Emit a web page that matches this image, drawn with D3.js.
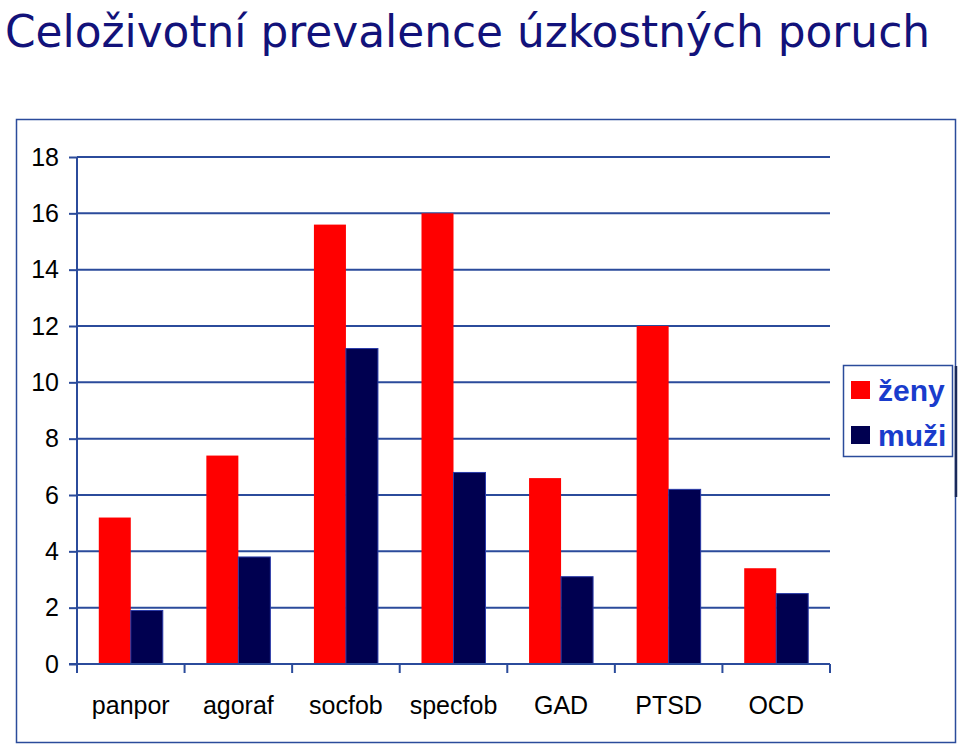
<!DOCTYPE html>
<html>
<head>
<meta charset="utf-8">
<script src="https://cdn.jsdelivr.net/npm/d3@7"></script>
<style>
  body { margin: 0; background: #fff; }
</style>
</head>
<body>
<div id="chart"></div>
<script>
const categories = ['panpor', 'agoraf', 'socfob', 'specfob', 'GAD', 'PTSD', 'OCD'];
const series = ['ženy', 'muži'];
const zeny = [5.2, 7.4, 15.6, 16.0, 6.6, 12.0, 3.4];
const muzi = [1.9, 3.8, 11.2, 6.8, 3.1, 6.2, 2.5];
const yTicks = [0, 2, 4, 6, 8, 10, 12, 14, 16, 18];

const W = 960, H = 746;
const margin = {top: 157, right: 130, bottom: 82, left: 77};
const width = W - margin.left - margin.right;
const height = H - margin.top - margin.bottom;
const lineCol = '#2b4b9b';
const colors = {'ženy': '#ff0000', 'muži': '#000050'};

const svg = d3.select('#chart').append('svg')
  .attr('width', W)
  .attr('height', H);

// title
svg.append('text')
  .attr('x', 5)
  .attr('y', 47)
  .attr('font-family', '"Comic Sans MS", "DejaVu Sans", sans-serif')
  .attr('font-size', 44)
  .attr('fill', '#12127a')
  .attr('textLength', 925)
  .attr('lengthAdjust', 'spacingAndGlyphs')
  .text('Celoživotní prevalence úzkostných poruch');

// outer frame
svg.append('rect')
  .attr('x', 16.5).attr('y', 119.5)
  .attr('width', 939).attr('height', 623)
  .attr('fill', 'none')
  .attr('stroke', lineCol)
  .attr('stroke-width', 1.5);

const g = svg.append('g')
  .attr('transform', `translate(${margin.left},${margin.top})`);

const x = d3.scaleBand()
  .domain(categories)
  .range([0, width])
  .paddingInner(0.405)
  .paddingOuter(0.2025);

const xs = d3.scaleBand()
  .domain(series)
  .range([0, x.bandwidth()]);

const y = d3.scaleLinear()
  .domain([0, 18])
  .range([height, 0]);

// gridlines
g.append('g')
  .selectAll('line')
  .data(yTicks.filter(d => d > 0))
  .join('line')
    .attr('x1', 0).attr('x2', width)
    .attr('y1', d => y(d)).attr('y2', d => y(d))
    .attr('stroke', lineCol)
    .attr('stroke-width', 2);

// bars
const rows = categories.map((c, i) => ({cat: c, vals: [
  {s: 'ženy', v: zeny[i]},
  {s: 'muži', v: muzi[i]}
]}));

g.selectAll('.grp')
  .data(rows)
  .join('g')
    .attr('class', 'grp')
    .attr('transform', d => `translate(${x(d.cat)},0)`)
  .selectAll('rect')
  .data(d => d.vals)
  .join('rect')
    .attr('x', d => xs(d.s))
    .attr('y', d => y(d.v))
    .attr('width', xs.bandwidth())
    .attr('height', d => height - y(d.v))
    .attr('fill', d => colors[d.s])
    .attr('stroke', d => d.s === 'muži' ? '#2a3aa8' : 'none')
    .attr('stroke-width', 1);

// y axis
const yAxis = g.append('g')
  .call(d3.axisLeft(y).tickValues(yTicks).tickSize(8).tickPadding(10).tickFormat(d3.format('d')));
yAxis.select('.domain').attr('stroke', lineCol).attr('stroke-width', 2).attr('d', `M0,${height}V0`);
yAxis.selectAll('.tick line').attr('stroke', lineCol).attr('stroke-width', 2);
yAxis.selectAll('.tick text')
  .attr('font-family', '"Liberation Sans", Arial, sans-serif')
  .attr('font-size', 25)
  .attr('fill', '#000');

// x axis
const bounds = d3.range(categories.length + 1).map(i => i * x.step());
const xAxis = g.append('g').attr('transform', `translate(0,${height})`);
xAxis.append('line')
  .attr('x1', -8).attr('x2', width)
  .attr('stroke', lineCol).attr('stroke-width', 2);
xAxis.selectAll('.xt')
  .data(bounds)
  .join('line')
    .attr('class', 'xt')
    .attr('x1', d => d).attr('x2', d => d)
    .attr('y1', 0).attr('y2', 9)
    .attr('stroke', lineCol).attr('stroke-width', 2);
xAxis.selectAll('.xl')
  .data(categories)
  .join('text')
    .attr('class', 'xl')
    .attr('x', d => x(d) + x.bandwidth() / 2)
    .attr('y', 50)
    .attr('text-anchor', 'middle')
    .attr('font-family', '"Liberation Sans", Arial, sans-serif')
    .attr('font-size', 25)
    .attr('fill', '#000')
    .text(d => d);

// legend
const lg = svg.append('g').attr('transform', 'translate(843,365)');
lg.append('rect')
  .attr('x', 0.5).attr('y', 0.5)
  .attr('width', 109).attr('height', 91)
  .attr('fill', '#fff')
  .attr('stroke', lineCol)
  .attr('stroke-width', 1.5);
svg.append('line')
  .attr('x1', 956).attr('x2', 956)
  .attr('y1', 366).attr('y2', 497)
  .attr('stroke', '#1a2a5a').attr('stroke-width', 2.5);

const items = lg.selectAll('.li')
  .data(series)
  .join('g')
    .attr('class', 'li')
    .attr('transform', (d, i) => `translate(8,${16 + i * 45})`);
items.append('rect')
  .attr('width', 19).attr('height', 18)
  .attr('fill', d => colors[d]);
items.append('text')
  .attr('x', 27)
  .attr('y', 20)
  .attr('font-family', '"Liberation Sans", Arial, sans-serif')
  .attr('font-weight', 'bold')
  .attr('font-size', 30)
  .attr('fill', '#1a3ccc')
  .text(d => d);
</script>
</body>
</html>
